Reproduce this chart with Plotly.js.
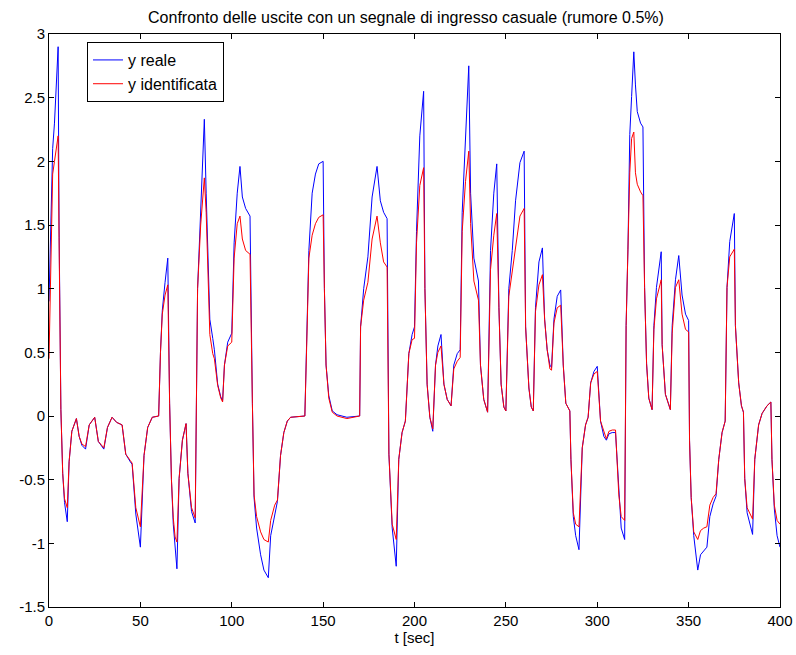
<!DOCTYPE html>
<html>
<head>
<meta charset="utf-8">
<script src="https://cdn.plot.ly/plotly-3.0.1.min.js"></script>
<style>html,body{margin:0;padding:0;background:#fff}#chart{width:796px;height:655px}</style>
</head>
<body>
<div id="chart"></div>
<script>
// time samples [sec]
var t = [0,1,2,3,4,5,5.5,6.5,7.5,8.5,10,11,12.5,15,16.5,18,20,22,25,27,30,32,34.5,37,40,42,44.5,45.5,47.5,50,52,54,56.5,60,61,62,63.5,65,66,67,68,69,70,71.2,73,75,76,78,80,81.3,83,85,86,87,88,89.6,90.5,92.3,94,95,96,97.8,100,101.3,103,104.5,105.8,107.6,110,111.3,112.2,113.6,115.8,117.6,120,121.3,123.5,125,126.7,128.5,130.4,132.2,140,141,142.2,144,145.8,147.6,150,150.7,151.6,153.1,155,157.6,163,170,170.5,172.2,174.5,176.8,179.5,181.3,183.1,185,186,187.8,190,191.4,193.2,195,196.9,198.7,200,201.1,202.9,205,205.7,206.9,208.4,210,211.5,212.8,214.5,216.1,217.9,220,221.5,223.4,225,226.1,227.9,229.7,230.7,232.5,235,236.1,237.9,240,241.6,243.4,245,246.2,247.4,248.9,250,251.6,253.5,255.3,257.7,260,260.8,262.6,263.9,265,266.2,268.1,270,271.2,272.6,274.1,275,276.3,278.1,280,281.4,282.8,285,285.6,286.9,288.2,290,291.8,293.6,295,296.4,298.2,300,301.8,303.6,305,306.4,308.2,310,310.9,311.8,313.1,315,315.8,316.8,317.8,318.8,320,320.9,321.9,323.7,325,325.9,327,328.2,330,331,332.4,335,335.5,337.3,340,341,342.8,344.6,346.4,348.3,350,350.5,351.4,352.8,355,356.5,358.3,360,361.6,363.4,365,366.5,368.3,370,371,372.5,375,375.6,377.4,378.9,380,380.7,382,385,386.2,388.3,390.2,392.9,395,395.6,396.9,398.4,400];

// y reale (blue)
var yReale = [0.9,1.6,2.1,2.3,2.6,2.9,1.5,0.05,-0.45,-0.68,-0.83,-0.36,-0.12,-0.02,-0.16,-0.23,-0.26,-0.07,-0.01,-0.2,-0.26,-0.09,-0.01,-0.05,-0.07,-0.3,-0.36,-0.38,-0.77,-1.03,-0.31,-0.09,-0.01,0.0,0.5,0.83,1.05,1.24,0.1,-0.5,-0.85,-1.05,-1.2,-0.49,-0.19,-0.06,-0.45,-0.75,-0.84,1.0,1.6,2.33,1.75,1.15,0.76,0.61,0.52,0.25,0.15,0.12,0.4,0.58,0.65,1.36,1.75,1.96,1.72,1.63,1.57,0.1,-0.64,-0.88,-1.09,-1.21,-1.27,-0.94,-0.76,-0.67,-0.31,-0.13,-0.04,-0.01,0.0,0.55,1.3,1.75,1.9,1.98,2.0,1.0,0.4,0.16,0.04,0.01,-0.01,0.0,0.7,1.0,1.25,1.72,1.96,1.69,1.6,1.55,-0.3,-0.88,-1.18,-0.34,-0.13,-0.04,0.49,0.64,0.7,1.45,2.2,2.55,1.0,0.25,-0.01,-0.12,0.4,0.55,0.64,0.25,0.13,0.08,0.4,0.49,0.52,1.6,2.2,2.75,1.75,1.24,1.06,0.4,0.13,0.03,1.3,1.75,1.98,0.85,0.25,0.07,0.04,1.0,1.3,1.69,1.99,2.08,0.7,0.22,0.07,0.04,0.85,1.21,1.32,0.76,0.52,0.4,0.38,0.76,0.94,0.99,0.4,0.1,0.04,-0.34,-0.79,-0.94,-1.05,-0.25,-0.07,-0.01,0.26,0.35,0.39,-0.04,-0.16,-0.19,-0.14,-0.13,-0.13,-0.34,-0.64,-0.88,-0.97,0.71,1.31,2.21,2.51,2.86,2.6,2.39,2.3,2.27,1.01,0.41,0.14,0.05,0.71,1.01,1.29,0.56,0.17,0.05,0.71,1.07,1.26,0.95,0.8,0.75,-0.19,-0.64,-0.94,-1.21,-1.09,-1.06,-1.03,-0.79,-0.69,-0.63,-0.34,-0.13,-0.04,1.01,1.37,1.59,0.71,0.26,0.08,0.03,-0.49,-0.76,-0.93,-0.34,-0.07,0.02,0.08,0.11,-0.34,-0.73,-0.94,-1.03];

// y identificata (red)
var yIdent = [0.45,1.3,1.9,2.0,2.1,2.2,1.4,0.05,-0.45,-0.65,-0.72,-0.36,-0.12,-0.02,-0.16,-0.22,-0.24,-0.07,-0.01,-0.2,-0.25,-0.09,-0.01,-0.05,-0.07,-0.3,-0.35,-0.37,-0.72,-0.87,-0.31,-0.09,-0.01,0.0,0.5,0.8,0.95,1.03,0.1,-0.5,-0.8,-0.95,-0.99,-0.49,-0.19,-0.06,-0.45,-0.72,-0.8,1.0,1.5,1.87,1.6,1.0,0.64,0.49,0.45,0.24,0.14,0.11,0.4,0.55,0.58,1.24,1.51,1.57,1.39,1.3,1.27,0.1,-0.62,-0.79,-0.91,-0.97,-0.99,-0.82,-0.7,-0.66,-0.31,-0.13,-0.04,-0.01,0.0,0.55,1.24,1.42,1.51,1.56,1.58,1.0,0.4,0.14,0.03,0.0,-0.02,0.0,0.7,0.91,1.05,1.39,1.57,1.36,1.21,1.17,-0.3,-0.85,-0.97,-0.34,-0.13,-0.04,0.49,0.6,0.61,1.36,1.81,1.95,1.0,0.25,-0.01,-0.1,0.4,0.5,0.55,0.25,0.13,0.08,0.37,0.43,0.46,1.45,1.84,2.08,1.51,1.06,0.91,0.4,0.13,0.03,1.15,1.42,1.59,0.85,0.25,0.07,0.04,0.94,1.15,1.33,1.57,1.63,0.7,0.22,0.07,0.04,0.82,1.03,1.11,0.76,0.52,0.37,0.36,0.73,0.85,0.87,0.4,0.1,0.04,-0.34,-0.76,-0.85,-0.87,-0.25,-0.07,-0.01,0.26,0.33,0.35,-0.04,-0.13,-0.18,-0.12,-0.11,-0.11,-0.34,-0.62,-0.79,-0.82,0.71,1.31,1.91,2.18,2.23,1.91,1.82,1.76,1.73,1.01,0.41,0.14,0.05,0.68,0.92,1.07,0.56,0.17,0.05,0.65,1.01,1.07,0.8,0.68,0.66,-0.19,-0.64,-0.91,-0.97,-0.9,-0.88,-0.87,-0.7,-0.64,-0.61,-0.34,-0.13,-0.04,1.01,1.25,1.31,0.71,0.26,0.08,0.03,-0.49,-0.72,-0.81,-0.34,-0.07,0.02,0.08,0.11,-0.34,-0.7,-0.82,-0.85];

var xTicks = [0,50,100,150,200,250,300,350,400];
var yTicks = [-1.5,-1,-0.5,0,0.5,1,1.5,2,2.5,3];
var yTickText = ['-1.5','-1','-0.5','0','0.5','1','1.5','2','2.5','3'];

var tickFont = {family: 'Liberation Sans, Arial, sans-serif', size: 15, color: '#000'};

var traces = [
  {x: t, y: yReale, type: 'scatter', mode: 'lines', name: 'y reale', line: {color: '#0000ff', width: 1}},
  {x: t, y: yIdent, type: 'scatter', mode: 'lines', name: 'y identificata', line: {color: '#ff0000', width: 1}}
];

var axisCommon = {
  showgrid: false, zeroline: false, showline: true, mirror: 'ticks',
  linecolor: '#000', linewidth: 1, ticks: 'inside', ticklen: 5, tickcolor: '#000',
  tickfont: tickFont
};

var layout = {
  width: 796, height: 655,
  margin: {l: 49, r: 16, t: 34, b: 48},
  paper_bgcolor: '#fff', plot_bgcolor: '#fff',
  title: {text: 'Confronto delle uscite con un segnale di ingresso casuale (rumore 0.5%)',
          font: {family: 'Liberation Sans, Arial, sans-serif', size: 16, color: '#000'},
          x: 0.51, xanchor: 'center', y: 0.973, yanchor: 'middle'},
  xaxis: Object.assign({}, axisCommon, {range: [0, 400], tickvals: xTicks, ticktext: xTicks.map(String),
          title: {text: 't [sec]', font: tickFont, standoff: 2}}),
  yaxis: Object.assign({}, axisCommon, {range: [-1.5, 3], tickvals: yTicks, ticktext: yTickText}),
  showlegend: true,
  legend: {x: 0.052, y: 0.986, xanchor: 'left', yanchor: 'top', bgcolor: '#fff',
           bordercolor: '#000', borderwidth: 1,
           font: {family: 'Liberation Sans, Arial, sans-serif', size: 16, color: '#000'},
           tracegroupgap: 0, itemwidth: 30}
};

Plotly.newPlot('chart', traces, layout, {displayModeBar: false, staticPlot: true});
</script>
</body>
</html>
